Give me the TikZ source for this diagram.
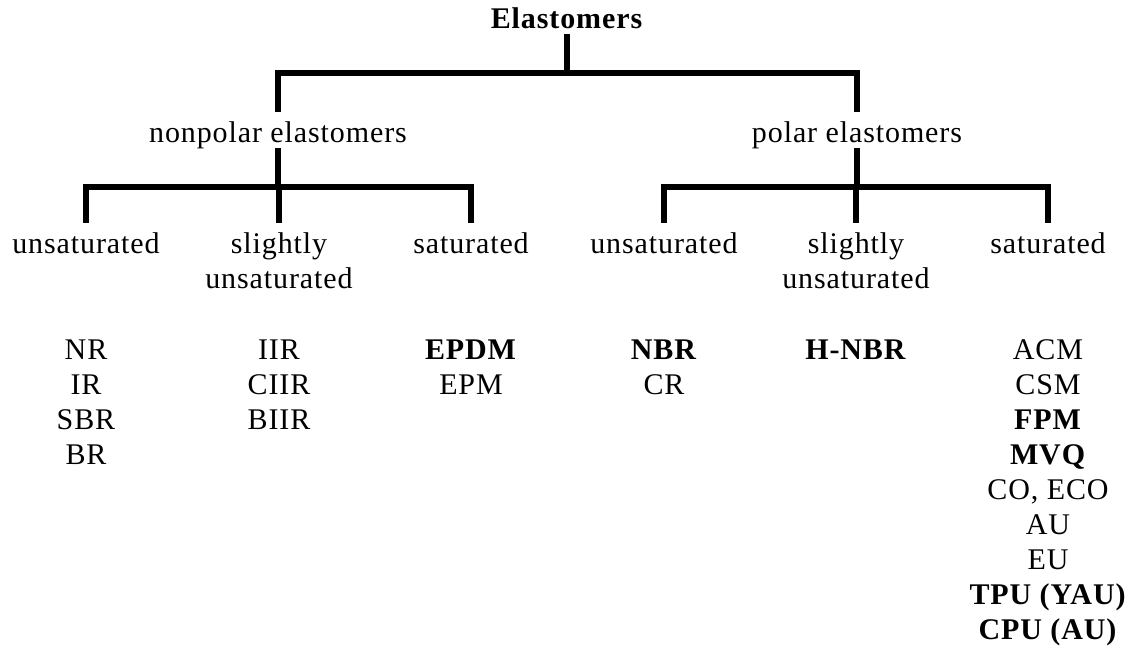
\documentclass[tikz,border=0pt]{standalone}
\usepackage{fontspec}
\setmainfont[LetterSpace=3]{Liberation Serif}

\tikzset{
	lbl/.style={inner sep=0, outer sep=0, font=\fontsize{15pt}{17.5pt}\selectfont, align=center, anchor=base},
	head/.style={lbl, text height=10pt, text depth=3pt},
	twoline/.style={lbl, anchor=north},
	list/.style={lbl, anchor=north},
	branch/.style={line width=2.8pt, line cap=butt, line join=miter},
}

\begin{document}
\begin{tikzpicture}[x=.5pt,y=.5pt]
	\useasboundingbox (0,0) rectangle (1134,650);

	\node[head] (root) at (567,622) {\textbf{Elastomers}};

	\node[head] (npol) at (278,508) {nonpolar elastomers};
	\node[head] (pol) at (857,508) {polar elastomers};

	% nonpolar
	\node[head] (nunsat) at (86,397) {unsaturated};
	\node[twoline] (nslight) at (279,417) {slightly\\unsaturated};
	\node[head] (nsat) at (471,397) {saturated};
	% polar
	\node[head] (punsat) at (664,397) {unsaturated};
	\node[twoline] (pslight) at (856,417) {slightly\\unsaturated};
	\node[head] (psat) at (1048,397) {saturated};

	\node[list] (lnunsat) at (86,310) {NR\\IR\\SBR\\BR};
	\node[list] (lnslight) at (279,310) {IIR\\CIIR\\BIIR};
	\node[list] (lnsat) at (471,310) {\textbf{EPDM}\\EPM};
	\node[list] (lpunsat) at (664,310) {\textbf{NBR}\\CR};
	\node[list] (lpslight) at (856,310) {\textbf{H-NBR}};
	\node[list] (lpsat) at (1048,310) {ACM\\CSM\\\textbf{FPM}\\\textbf{MVQ}\\CO, ECO\\AU\\EU\\\textbf{TPU (YAU)}\\\textbf{CPU (AU)}};

	\foreach \c in {npol,pol}
		\draw[branch, shorten >=5pt] (root.south) -- ++(0,-39) -| (\c.north);
	\foreach \c in {nunsat,nslight,nsat}
		\draw[branch, shorten >=5pt] (npol.south) -- ++(0,-39) -| (\c.north);
	\foreach \c in {punsat,pslight,psat}
		\draw[branch, shorten >=5pt] (pol.south) -- ++(0,-39) -| (\c.north);
\end{tikzpicture}
\end{document}
